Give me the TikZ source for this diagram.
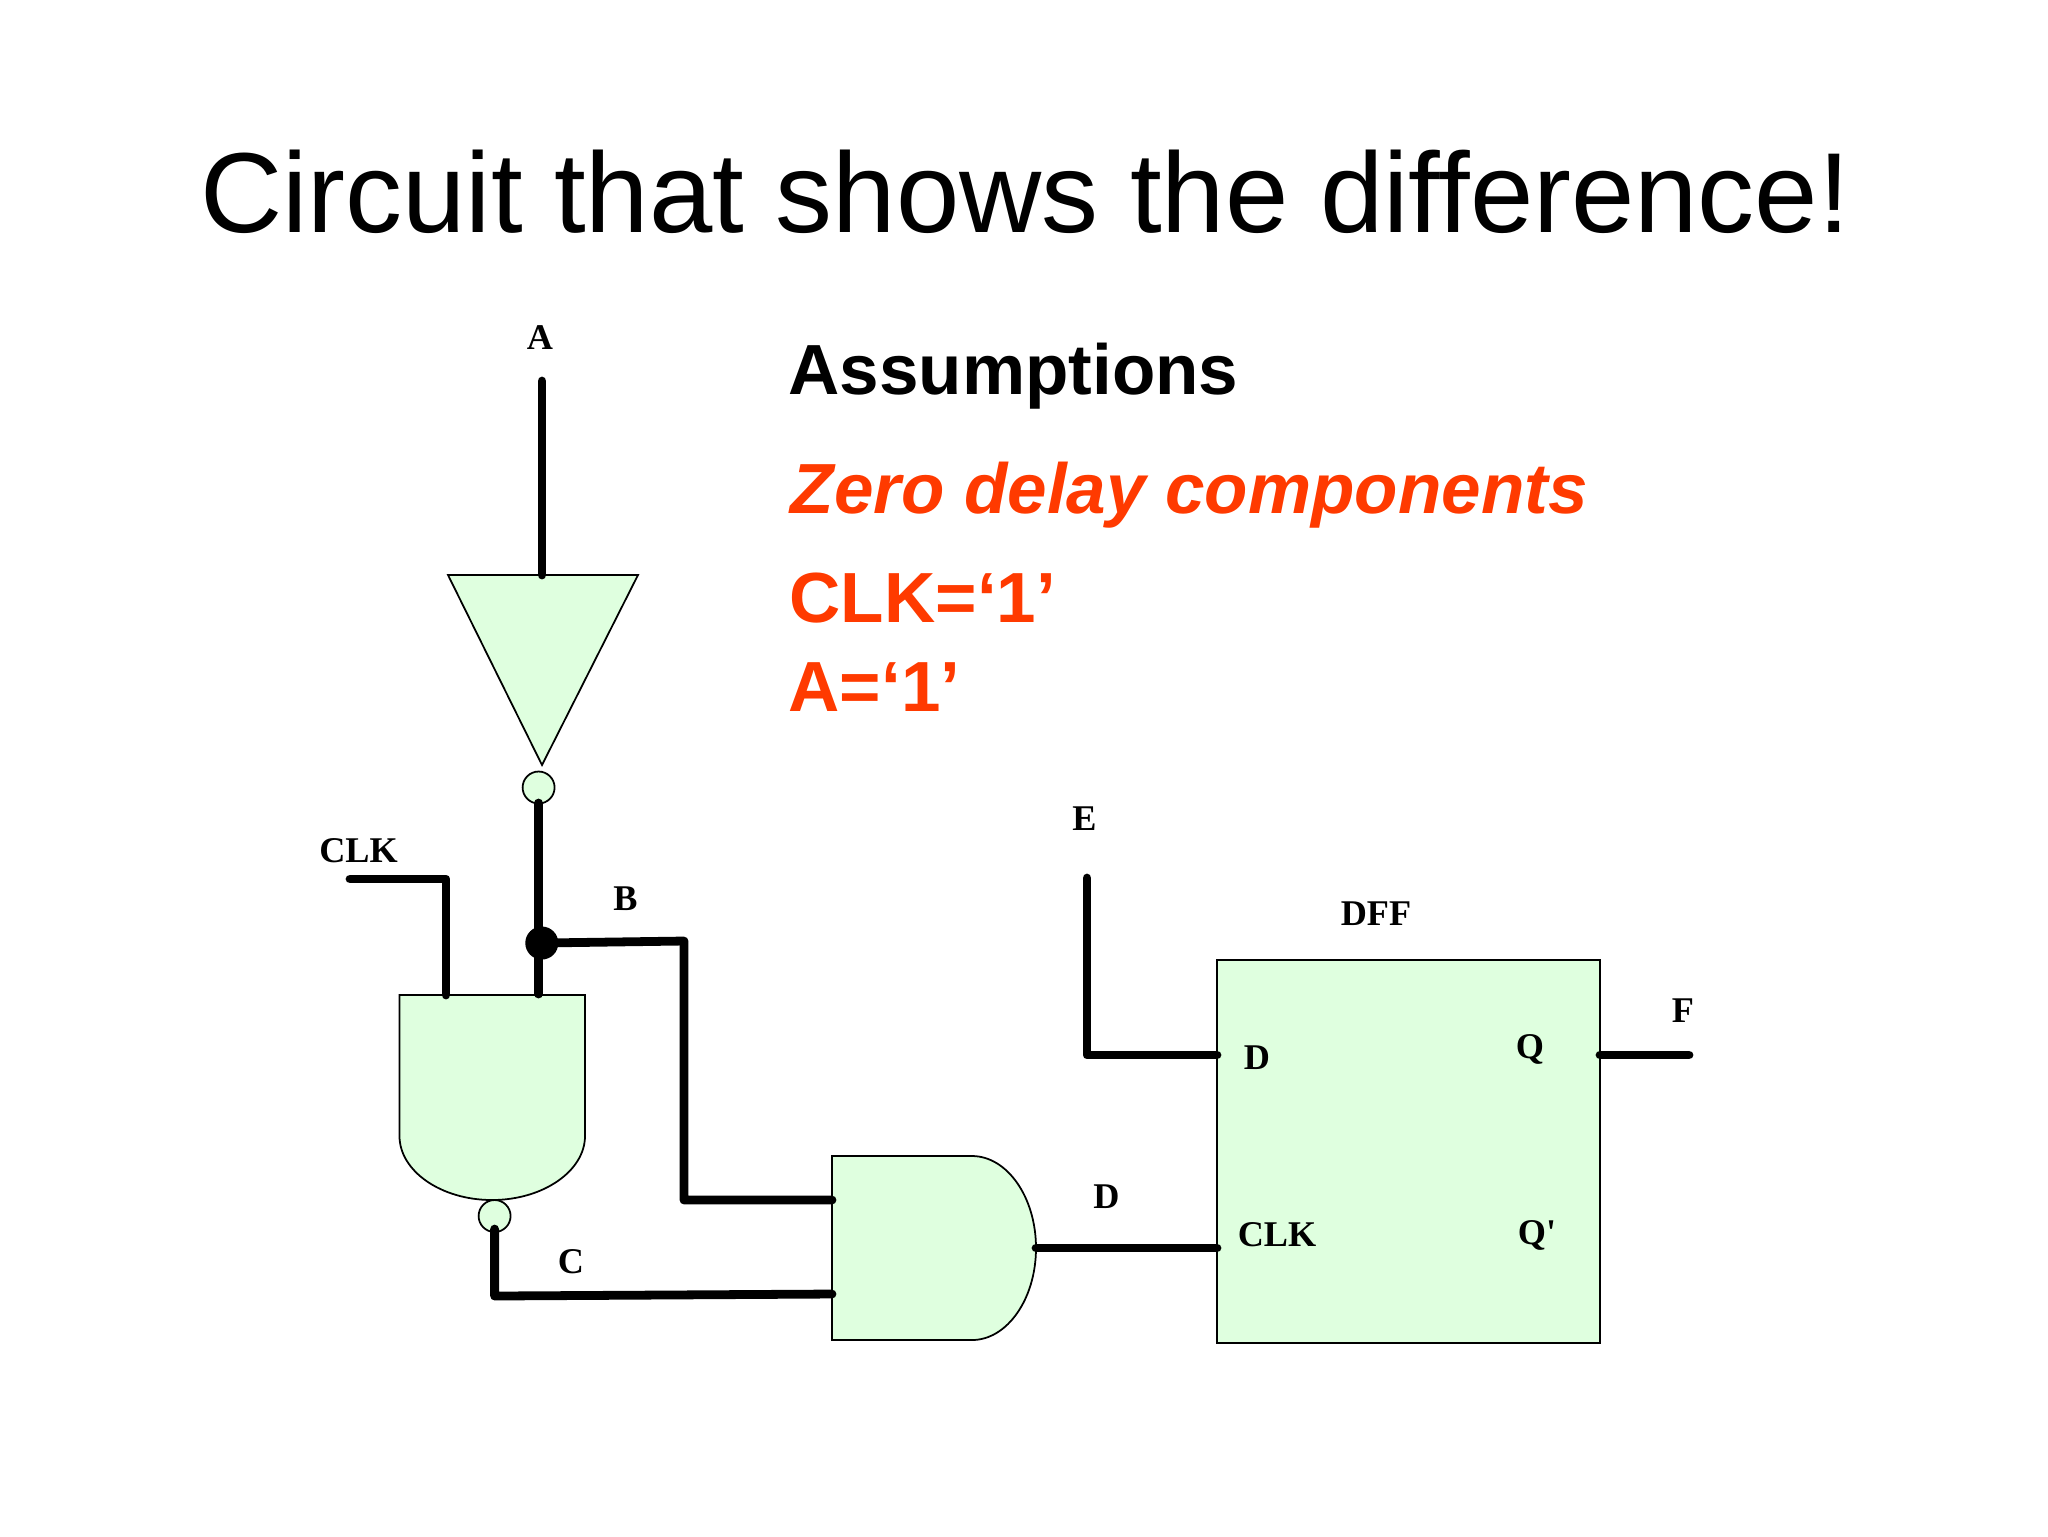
\documentclass[tikz,border=0pt]{standalone}
\usepackage{xcolor}
\usepackage{fontspec}
\setmainfont{Liberation Serif}
\setsansfont{Liberation Sans}
\usetikzlibrary{positioning, calc}
\definecolor{gatefill}{HTML}{DFFFDF}
\definecolor{noteorange}{HTML}{FF3A00}

\begin{document}
\begin{tikzpicture}[x=0.1mm, y=-0.1mm,
        wire/.style={line width=2.5pt, line cap=round, line join=round},
        gate/.style={draw=black, fill=gatefill, line width=0.5pt},
        bubble/.style={circle, draw=black, fill=gatefill, line width=0.5pt, inner sep=0pt, minimum size=9.1pt},
        pin/.style={font=\rmfamily\bfseries\fontsize{10.3}{12}\selectfont, inner sep=0pt, anchor=base},
        note/.style={font=\sffamily\bfseries\fontsize{20.2}{24}\selectfont, inner sep=0pt, anchor=base west}]

        \useasboundingbox (0,0) rectangle (2048,1536);

        \node[font=\sffamily\fontsize{32.4}{38}\selectfont, inner sep=0pt, anchor=base] (title) at (1025,232) {Circuit that shows the difference!};
        \node[note] (assume) at (788,394) {Assumptions};
        \node[note, text=noteorange, font=\sffamily\bfseries\itshape\fontsize{20.2}{24}\selectfont] (zero) at (790,513.5) {Zero delay components};
        \node[note, text=noteorange] (clkone) at (789,622.5) {CLK=‘1’};
        \node[note, text=noteorange] (aone) at (788,711.5) {A=‘1’};

        \draw[gate] (448,575) -- (638,575) -- (542,765) -- cycle;
        \draw[gate] (399.5,995) -- (585,995) -- (585,1136)
            .. controls (585,1171) and (543,1200) .. (492,1200)
            .. controls (441,1200) and (399.5,1171) .. (399.5,1136) -- cycle;
        \draw[gate] (832,1156) -- (972,1156)
            .. controls (1007,1156) and (1036,1197) .. (1036,1248)
            .. controls (1036,1299) and (1007,1340) .. (972,1340)
            -- (832,1340) -- cycle;
        \node[gate, minimum width=383*0.1mm, minimum height=383*0.1mm, inner sep=0pt] (dff) at (1408.5,1151.5) {};

        \node[bubble] (invbub) at (538.6,787.5) {};
        \node[bubble] (nandbub) at (494.6,1216) {};
        \node[circle, fill=black, inner sep=0pt, minimum size=9.4pt] (dot) at (541.8,943) {};

        \coordinate (ain) at (542,381);
        \coordinate (ainend) at (542,575);
        \coordinate (clkin) at (350,879);
        \coordinate (clkcor) at (446,879);
        \coordinate (clkend) at (446,995);
        \coordinate (bout) at (538.6,803);
        \coordinate (bend) at (538.6,994);
        \coordinate (bcor) at (684,941);
        \coordinate (bcorb) at (684,1200);
        \coordinate (andb) at (832,1200);
        \coordinate (cout) at (494.6,1229);
        \coordinate (ccor) at (494.6,1296);
        \coordinate (andc) at (832,1294);
        \coordinate (andout) at (1036,1248);
        \coordinate (dffclk) at (1217,1248);
        \coordinate (ein) at (1087,878);
        \coordinate (ecor) at (1087,1055);
        \coordinate (dffd) at (1217,1055);
        \coordinate (dffq) at (1600,1055);
        \coordinate (fout) at (1689,1055);

        \draw[wire] (ain) -- (ainend);
        \draw[wire] (clkin) -- (clkcor) -- (clkend);
        \draw[wire] (bout) -- (bend);
        \draw[wire] (dot.center) -- (bcor) -- (bcorb) -- (andb);
        \draw[wire] (cout) -- (ccor) -- (andc);
        \draw[wire] (andout) -- (dffclk);
        \draw[wire] (ein) -- (ecor) -- (dffd);
        \draw[wire] (dffq) -- (fout);

        \node[pin] (labela) at (540,349) {A};
        \node[pin] (labelclk) at (358.5,862) {CLK};
        \node[pin] (labelb) at (625.5,910) {B};
        \node[pin] (labelc) at (571,1273) {C};
        \node[pin] (labeld) at (1106.5,1208) {D};
        \node[pin] (labele) at (1084.5,830) {E};
        \node[pin] (labeldff) at (1376,925) {DFF};
        \node[pin] (dffpind) at (1257,1069) {D};
        \node[pin] (dffpinclk) at (1277,1246) {CLK};
        \node[pin] (dffpinq) at (1530,1058) {Q};
        \node[pin] (dffpinqb) at (1537,1244) {Q\textquotesingle};
        \node[pin] (labelf) at (1683,1022) {F};
\end{tikzpicture}
\end{document}
